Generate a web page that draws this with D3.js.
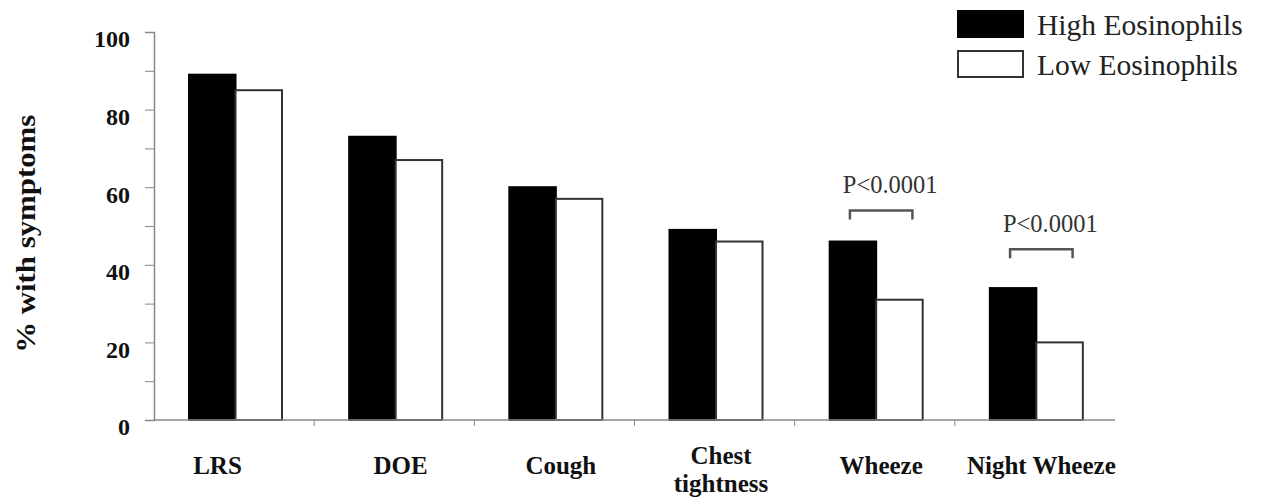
<!DOCTYPE html>
<html>
<head>
<meta charset="utf-8">
<script src="https://cdn.jsdelivr.net/npm/d3@7"></script>
<style>
  body { margin: 0; background: #fff; }
  text { font-family: "Liberation Serif", "Times New Roman", serif; }
</style>
</head>
<body>
<div id="canvas"></div>
<script>
// Data
const categories = ['LRS', 'DOE', 'Cough', 'Chest tightness', 'Wheeze', 'Night Wheeze']
const series = ['High Eosinophils', 'Low Eosinophils']
const highValues = [89, 73, 60, 49, 46, 34]
const lowValues = [85, 67, 57, 46, 31, 20]
const yTicks = [0, 20, 40, 60, 80, 100]
const yMinorTicks = [10, 30, 50, 70, 90]
// significance brackets: category, label, value where bracket sits
const pLabels = [
    { cat: 'Wheeze', text: 'P<0.0001', at: 54 },
    { cat: 'Night Wheeze', text: 'P<0.0001', at: 44 }
]

const width = 1262
const height = 500
const margin = { left: 154, right: 147, top: 32, bottom: 80 }

const svg = d3.select('#canvas')
    .append('svg').attr('width', width).attr('height', height)

const x0 = d3.scaleBand()
    .domain(categories)
    .range([margin.left, width - margin.right])
    .padding(0)

const x1 = d3.scaleBand()
    .domain(series)
    .range([35, 128])

const y = d3.scaleLinear()
    .domain([0, 100])
    .range([height - margin.bottom, margin.top])

const colors = { 'High Eosinophils': '#000', 'Low Eosinophils': '#fff' }

const rows = categories.map((c, i) => ({
    cat: c,
    vals: [
        { key: series[0], v: highValues[i] },
        { key: series[1], v: lowValues[i] }
    ]
}))

// Bars
const groups = svg.append('g').selectAll('g')
    .data(rows)
    .join('g')
    .attr('transform', d => `translate(${x0(d.cat)},0)`)

groups.selectAll('rect')
    .data(d => d.vals)
    .join('rect')
    .attr('x', d => x1(d.key))
    .attr('y', d => y(d.v))
    .attr('width', x1.bandwidth())
    .attr('height', d => y(0) - y(d.v))
    .attr('fill', d => colors[d.key])
    .attr('stroke', d => d.key === series[0] ? '#000' : '#333')
    .attr('stroke-width', 2)

// Y axis
const yAxis = svg.append('g')
    .attr('transform', `translate(${margin.left},0)`)
    .call(d3.axisLeft(y).tickValues(yTicks).tickSize(9).tickFormat(d3.format('d')))
yAxis.select('.domain').attr('stroke', '#888').attr('stroke-width', 1.5)
yAxis.selectAll('.tick line').attr('stroke', '#888')
yAxis.selectAll('.tick text')
    .attr('x', -24)
    .attr('dy', '0.62em')
    .style('font-size', '24px')
    .style('font-weight', 'bold')
    .style('font-family', '"Liberation Serif", serif')
    .attr('fill', '#111')

svg.append('g')
    .attr('transform', `translate(${margin.left},0)`)
    .call(d3.axisLeft(y).tickValues(yMinorTicks).tickSize(9).tickFormat(''))
    .call(g => g.select('.domain').remove())
    .selectAll('.tick line').attr('stroke', '#888')

// X axis
const xAxisG = svg.append('g')
    .attr('transform', `translate(0,${y(0)})`)
xAxisG.append('line')
    .attr('x1', margin.left).attr('x2', width - margin.right)
    .attr('stroke', '#888').attr('stroke-width', 1.5)
xAxisG.selectAll('.xtick')
    .data(categories.slice(1))
    .join('line')
    .attr('class', 'xtick')
    .attr('x1', d => x0(d)).attr('x2', d => x0(d))
    .attr('y1', 0).attr('y2', 6)
    .attr('stroke', '#888')

// Category labels
const labelCenter = c => x0(c) + (x1.range()[0] + x1.range()[1]) / 2 + (c === 'LRS' ? -18 : 5)
const xLabels = svg.append('g').selectAll('text')
    .data(categories)
    .join('text')
    .attr('x', d => labelCenter(d))
    .attr('y', y(0) + 54)
    .attr('text-anchor', 'middle')
    .style('font-size', '25px')
    .style('font-weight', 'bold')
    .attr('fill', '#111')
xLabels.each(function (d) {
    const t = d3.select(this)
    if (d === 'Chest tightness') {
        t.attr('y', y(0) + 44)
        t.append('tspan').attr('x', labelCenter(d)).text('Chest')
        t.append('tspan').attr('x', labelCenter(d)).attr('dy', 28).text('tightness')
    } else {
        t.text(d)
    }
})

// Y title
svg.append('text')
    .attr('transform', `translate(35,${y(48)}) rotate(-90)`)
    .attr('text-anchor', 'middle')
    .style('font-size', '27px')
    .style('font-weight', 'bold')
    .attr('fill', '#111')
    .attr('textLength', 238)
    .attr('lengthAdjust', 'spacingAndGlyphs')
    .text('% with symptoms')

// P-value brackets
pLabels.forEach(p => {
    const left = x0(p.cat) + x1(series[0]) + x1.bandwidth() / 2 - 3
    const right = x0(p.cat) + x1(series[1]) + x1.bandwidth() / 2 + 13
    const yy = y(p.at)
    svg.append('path')
        .attr('d', `M${left},${yy + 9}V${yy}H${right}V${yy + 9}`)
        .attr('fill', 'none')
        .attr('stroke', '#555')
        .attr('stroke-width', 2.5)
    svg.append('text')
        .attr('x', (left + right) / 2 + 9)
        .attr('y', yy - 17)
        .attr('text-anchor', 'middle')
        .style('font-size', '24.5px')
        .attr('fill', '#333')
        .text(p.text)
})

// Legend
const legend = svg.append('g').attr('transform', 'translate(958,11)')
series.forEach((s, i) => {
    legend.append('rect')
        .attr('x', 0).attr('y', i * 40)
        .attr('width', 65).attr('height', 26)
        .attr('fill', colors[s])
        .attr('stroke', i === 0 ? '#000' : '#333')
        .attr('stroke-width', 2)
    legend.append('text')
        .attr('x', 79).attr('y', i * 40 + 24)
        .style('font-size', '29.5px')
        .attr('fill', '#222')
        .text(s)
})
</script>
</body>
</html>
